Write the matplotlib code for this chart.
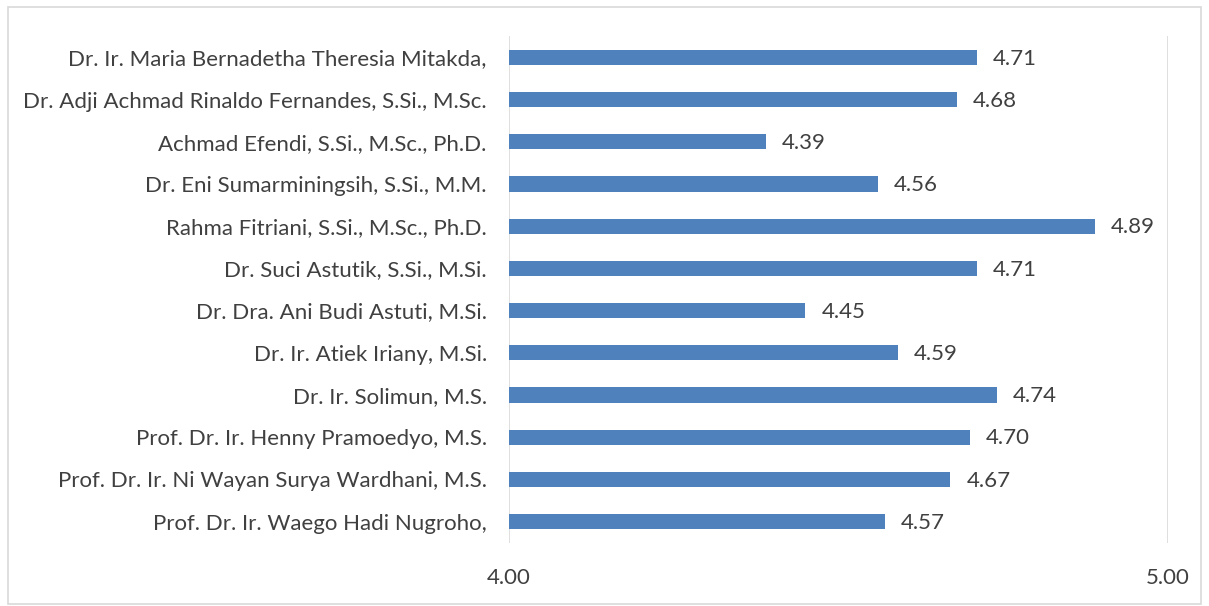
import matplotlib.pyplot as plt
from matplotlib.patches import Rectangle

names = [
    "Dr. Ir. Maria Bernadetha Theresia Mitakda,",
    "Dr. Adji Achmad Rinaldo Fernandes, S.Si., M.Sc.",
    "Achmad Efendi, S.Si., M.Sc., Ph.D.",
    "Dr. Eni Sumarminingsih, S.Si., M.M.",
    "Rahma Fitriani, S.Si., M.Sc., Ph.D.",
    "Dr. Suci Astutik, S.Si., M.Si.",
    "Dr. Dra. Ani Budi Astuti, M.Si.",
    "Dr. Ir. Atiek Iriany, M.Si.",
    "Dr. Ir. Solimun, M.S.",
    "Prof. Dr. Ir. Henny Pramoedyo, M.S.",
    "Prof. Dr. Ir. Ni Wayan Surya Wardhani, M.S.",
    "Prof. Dr. Ir. Waego Hadi Nugroho,",
]
scores = [4.71, 4.68, 4.39, 4.56, 4.89, 4.71, 4.45, 4.59, 4.74, 4.70, 4.67, 4.57]
xticks = [4.0, 5.0]

text_color = "#404040"
fsize = 16
plt.rcParams['font.family'] = ['Lato', 'DejaVu Sans']

fig = plt.figure(figsize=(12.09, 6.06), dpi=100)
ax = fig.add_axes([0.421, 0.1046, 0.545, 0.8354])

pos = list(range(len(names)))
ax.barh(pos, [s - 4.0 for s in scores], left=4.0, height=0.36,
        color="#4F81BD", zorder=3)
for p, s in zip(pos, scores):
    ax.text(s + 0.024, p + 0.03, f"{s:.2f}", va="center", ha="left",
            fontsize=fsize, color=text_color)

ax.set_ylim(len(names) - 0.5, -0.5)
ax.set_xlim(4.0, 5.0)
ax.set_yticks(pos)
ax.set_yticklabels(names, fontsize=fsize, color=text_color)
ax.set_xticks(xticks)
ax.set_xticklabels([f"{t:.2f}" for t in xticks], fontsize=fsize, color=text_color)
ax.tick_params(length=0, axis="y", pad=16)
ax.tick_params(length=0, axis="x", pad=18)
ax.grid(axis="x", color="#D9D9D9", linewidth=1.2, zorder=0)
for sp in ax.spines.values():
    sp.set_visible(False)

fig.add_artist(Rectangle((8 / 1209, 2 / 606), 1193 / 1209, 597 / 606,
                         transform=fig.transFigure, fill=False,
                         edgecolor="#D9D9D9", linewidth=1.2))

fig.savefig("out.png", dpi=100)
